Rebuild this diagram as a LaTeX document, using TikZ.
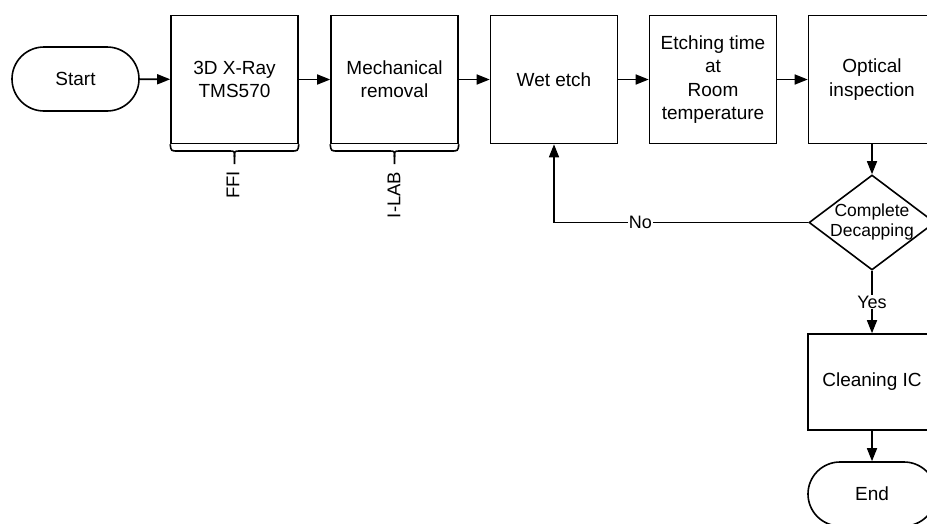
\documentclass[tikz,border=0pt]{standalone}
\usepackage{fontspec}
\setmainfont{Liberation Sans}
\usetikzlibrary{shapes.geometric,shapes.misc,arrows.meta}
\begin{document}
\begin{tikzpicture}[x=1pt,y=-1pt,
  every node/.style={font=\fontsize{19}{23.4}\selectfont, align=center, inner sep=0pt},
  procbox/.style={draw, line width=1.6pt, minimum width=127pt, minimum height=128pt},
  termbox/.style={draw, line width=1.6pt, rounded rectangle, minimum width=127pt, minimum height=64pt},
  decbox/.style={draw, line width=1.6pt, diamond, shape aspect=1.33, minimum width=126pt, minimum height=95pt},
  dectext/.style={font=\fontsize{17.5}{20.7}\selectfont},
  lab/.style={font=\fontsize{18}{22}\selectfont, fill=white, inner sep=1pt},
  flow/.style={line width=1.6pt, -{Triangle[length=13pt,width=10pt]}},
  bracepath/.style={line width=1.6pt}]
\useasboundingbox (0,0) rectangle (927,523);
\clip (0,0) rectangle (927,523);
\node[termbox] (start) at (75.5,79) {Start};
\node[procbox] (xray) at (234.5,79.5) {3D X-Ray\\TMS570};
\node[procbox] (mech) at (394.5,79.5) {Mechanical\\removal};
\node[procbox] (wet) at (554,79.5) {Wet etch};
\node[procbox] (etch) at (713,79.5) {Etching time\\at\\Room\\temperature};
\node[procbox] (opt) at (872,79.5) {Optical\\inspection};
\node[decbox] (dec) at (872,222.5) {};
\node[dectext] (dectxt) at (872,222) {Complete\\Decapping};
\node[procbox, minimum width=128pt, minimum height=96pt] (clean) at (872,382) {Cleaning IC};
\node[termbox, minimum width=128pt] (end) at (872,494) {End};
% braces
\coordinate (ffitip) at (234.5,164);
\draw[bracepath] (xray.south west) .. controls (171,151) .. (178,151) -- (229.5,151) .. controls (234.5,151) .. (234.5,157) -- (ffitip);
\draw[bracepath] (xray.south east) .. controls (298,151) .. (291,151) -- (239.5,151) .. controls (234.5,151) .. (234.5,157);
\coordinate (ilabtip) at (394.5,164);
\draw[bracepath] (mech.south west) .. controls (331,151) .. (338,151) -- (389.5,151) .. controls (394.5,151) .. (394.5,157) -- (ilabtip);
\draw[bracepath] (mech.south east) .. controls (458,151) .. (451,151) -- (399.5,151) .. controls (394.5,151) .. (394.5,157);
\node[rotate=90, font=\fontsize{18.5}{22}\selectfont] (ffi) at (233,185) {FFI};
\node[rotate=90, font=\fontsize{18.5}{22}\selectfont] (ilab) at (394,195) {I-LAB};
% flow
\draw[flow] (start) -- (xray);
\draw[flow] (xray) -- (mech);
\draw[flow] (mech) -- (wet);
\draw[flow] (wet) -- (etch);
\draw[flow] (etch) -- (opt);
\draw[flow] (opt) -- (dec);
\draw[flow] (dec.west) -| node[lab, pos=0.33] {No} (wet.south);
\draw[flow] (dec.south) -- node[lab] {Yes} (clean.north);
\draw[flow] (clean) -- (end);
\end{tikzpicture}
\end{document}
